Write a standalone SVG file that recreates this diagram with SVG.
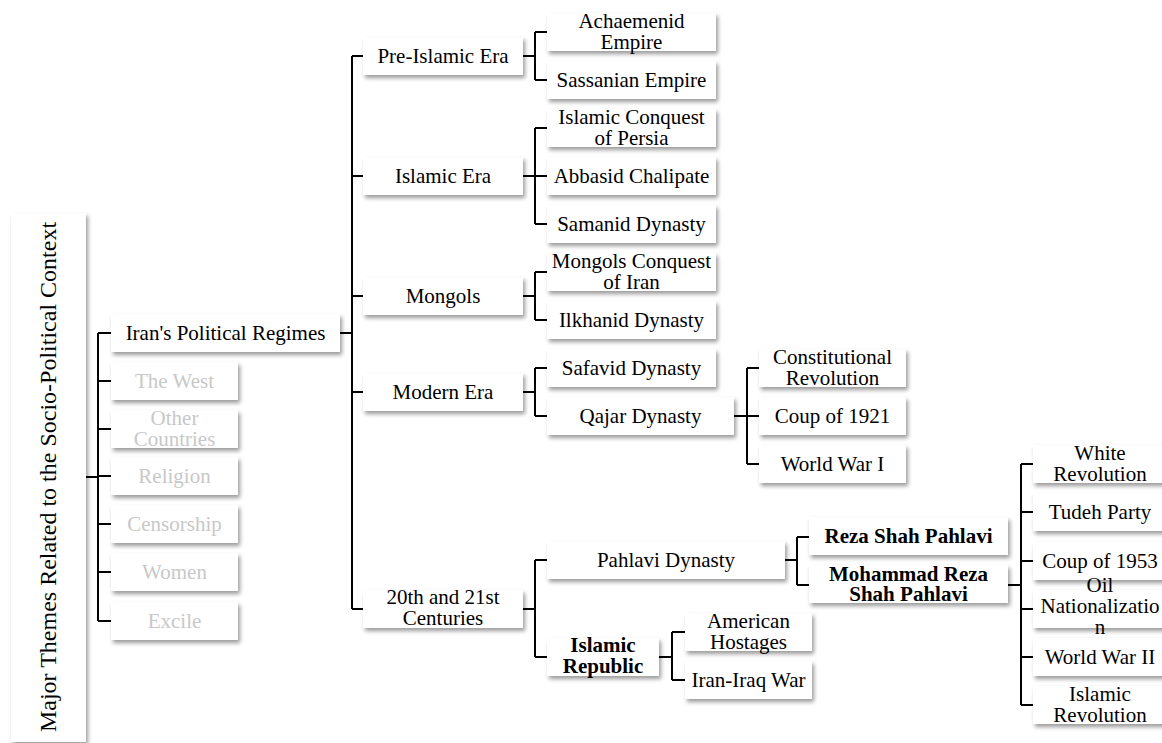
<svg xmlns="http://www.w3.org/2000/svg" width="1162" height="743" viewBox="0 0 1162 743">
<defs>
<filter id="sh" x="-10%" y="-20%" width="130%" height="160%">
<feDropShadow dx="2" dy="3" stdDeviation="2" flood-color="#000" flood-opacity="0.4"/>
</filter>
<style>
.b{fill:#fff;filter:url(#sh)}
text{font-size:21px;fill:#000;text-anchor:middle}
text.r{font-size:24px}
.g{fill:#c8c8c8}
.bd{font-weight:bold}
.c{fill:none;stroke:#000;stroke-width:2}
</style>
</defs>
<rect width="1162" height="743" fill="#fff"/>
<g id="connectors">
<path class="c" d="M86,477H98M98,333V621M98,333H111M98,381H111M98,429H111M98,476H111M98,524H111M98,572H111M98,621H111"/>
<path class="c" d="M340,333H352M352,56V609M352,56H363M352,176H363M352,296H363M352,392H363M352,609H363"/>
<path class="c" d="M523,56H535M535,32V80M535,32H547M535,80H547"/>
<path class="c" d="M523,176H547M535,128V224M535,128H547M535,224H547"/>
<path class="c" d="M523,296H535M535,272V320M535,272H547M535,320H547"/>
<path class="c" d="M523,392H535M535,368V416M535,368H547M535,416H547"/>
<path class="c" d="M734,416H759M747,368V464M747,368H759M747,464H759"/>
<path class="c" d="M523,609H535M535,560V657M535,560H547M535,657H547"/>
<path class="c" d="M785,560H797M797,537V585M797,537H809M797,585H809"/>
<path class="c" d="M659,657H672M672,632V680M672,632H685M672,680H685"/>
<path class="c" d="M1008,585H1021M1021,464V705M1021,464H1033M1021,512H1033M1021,561H1033M1021,609H1033M1021,657H1033M1021,705H1033"/>
</g>
<g font-family="'Liberation Serif', Tinos, 'Times New Roman', 'DejaVu Serif', serif">
<g id="root"><rect class="b" x="11" y="213" width="75" height="529"/><text class="r" transform="translate(56,477) rotate(-90)">Major Themes Related to the Socio-Political Context</text></g>
<g id="iran"><rect class="b" x="111" y="314" width="229" height="38"/><text x="225.5" y="340">Iran's Political Regimes</text></g>
<g id="west"><rect class="b" x="111" y="362" width="127" height="38"/><text class="g" x="174.5" y="388">The West</text></g>
<g id="other"><rect class="b" x="111" y="410" width="127" height="38"/><text class="g" x="174.5" y="425">Other</text><text class="g" x="174.5" y="446">Countries</text></g>
<g id="religion"><rect class="b" x="111" y="457" width="127" height="38"/><text class="g" x="174.5" y="483">Religion</text></g>
<g id="censorship"><rect class="b" x="111" y="505" width="127" height="38"/><text class="g" x="174.5" y="531">Censorship</text></g>
<g id="women"><rect class="b" x="111" y="553" width="127" height="38"/><text class="g" x="174.5" y="579">Women</text></g>
<g id="excile"><rect class="b" x="111" y="602" width="127" height="38"/><text class="g" x="174.5" y="628">Excile</text></g>
<g id="preislamic"><rect class="b" x="363" y="37" width="160" height="38"/><text x="443" y="63">Pre-Islamic Era</text></g>
<g id="islamicera"><rect class="b" x="363" y="157" width="160" height="38"/><text x="443" y="183">Islamic Era</text></g>
<g id="mongols"><rect class="b" x="363" y="277" width="160" height="38"/><text x="443" y="303">Mongols</text></g>
<g id="modern"><rect class="b" x="363" y="373" width="160" height="38"/><text x="443" y="399">Modern Era</text></g>
<g id="c20"><rect class="b" x="363" y="590" width="160" height="38"/><text x="443" y="604">20th and 21st</text><text x="443" y="625">Centuries</text></g>
<g id="achaemenid"><rect class="b" x="547" y="13" width="169" height="38"/><text x="631.5" y="28">Achaemenid</text><text x="631.5" y="49">Empire</text></g>
<g id="sassanian"><rect class="b" x="547" y="61" width="169" height="38"/><text x="631.5" y="87">Sassanian Empire</text></g>
<g id="conquest"><rect class="b" x="547" y="109" width="169" height="38"/><text x="631.5" y="124">Islamic Conquest</text><text x="631.5" y="145">of Persia</text></g>
<g id="abbasid"><rect class="b" x="547" y="157" width="169" height="38"/><text x="631.5" y="183">Abbasid Chalipate</text></g>
<g id="samanid"><rect class="b" x="547" y="205" width="169" height="38"/><text x="631.5" y="231">Samanid Dynasty</text></g>
<g id="mongolconquest"><rect class="b" x="547" y="253" width="169" height="38"/><text x="631.5" y="268">Mongols Conquest</text><text x="631.5" y="289">of Iran</text></g>
<g id="ilkhanid"><rect class="b" x="547" y="301" width="169" height="38"/><text x="631.5" y="327">Ilkhanid Dynasty</text></g>
<g id="safavid"><rect class="b" x="547" y="349" width="169" height="38"/><text x="631.5" y="375">Safavid Dynasty</text></g>
<g id="qajar"><rect class="b" x="547" y="397" width="187" height="38"/><text x="640.5" y="423">Qajar Dynasty</text></g>
<g id="constitutional"><rect class="b" x="759" y="349" width="147" height="38"/><text x="832.5" y="364">Constitutional</text><text x="832.5" y="385">Revolution</text></g>
<g id="coup1921"><rect class="b" x="759" y="397" width="147" height="38"/><text x="832.5" y="423">Coup of 1921</text></g>
<g id="ww1"><rect class="b" x="759" y="445" width="147" height="38"/><text x="832.5" y="471">World War I</text></g>
<g id="pahlavi"><rect class="b" x="547" y="541" width="238" height="38"/><text x="666" y="567">Pahlavi Dynasty</text></g>
<g id="islamicrepublic"><rect class="b" x="547" y="638" width="112" height="38"/><text class="bd" x="603" y="652">Islamic</text><text class="bd" x="603" y="673">Republic</text></g>
<g id="hostages"><rect class="b" x="685" y="613" width="127" height="38"/><text x="748.5" y="628">American</text><text x="748.5" y="649">Hostages</text></g>
<g id="iraniraq"><rect class="b" x="685" y="661" width="127" height="38"/><text x="748.5" y="687">Iran-Iraq War</text></g>
<g id="reza"><rect class="b" x="809" y="517" width="199" height="38"/><text class="bd" x="908.5" y="543">Reza Shah Pahlavi</text></g>
<g id="mohammad"><rect class="b" x="809" y="565" width="199" height="38"/><text class="bd" x="908.5" y="581">Mohammad Reza</text><text class="bd" x="908.5" y="601">Shah Pahlavi</text></g>
<g id="white"><rect class="b" x="1033" y="445" width="134" height="38"/><text x="1100" y="460">White</text><text x="1100" y="481">Revolution</text></g>
<g id="tudeh"><rect class="b" x="1033" y="493" width="134" height="38"/><text x="1100" y="519">Tudeh Party</text></g>
<g id="coup1953"><rect class="b" x="1033" y="542" width="134" height="38"/><text x="1100" y="568">Coup of 1953</text></g>
<g id="oil"><rect class="b" x="1033" y="590" width="134" height="38"/><text x="1100" y="592">Oil</text><text x="1100" y="613">Nationalizatio</text><text x="1100" y="634">n</text></g>
<g id="ww2"><rect class="b" x="1033" y="638" width="134" height="38"/><text x="1100" y="664">World War II</text></g>
<g id="islamicrev"><rect class="b" x="1033" y="686" width="134" height="38"/><text x="1100" y="701">Islamic</text><text x="1100" y="722">Revolution</text></g>
</g>
</svg>
